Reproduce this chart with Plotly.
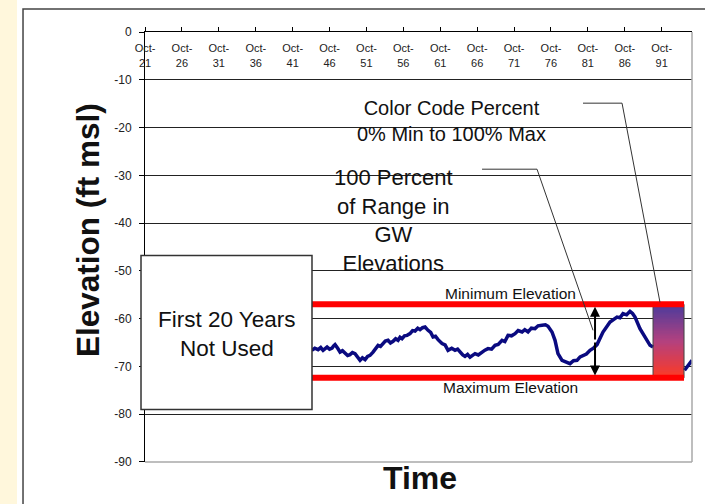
import plotly.graph_objects as go
import numpy as np

# ---------------- data ----------------
tick_years = [1921.75, 1926.75, 1931.75, 1936.75, 1941.75, 1946.75, 1951.75, 1956.75,
              1961.75, 1966.75, 1971.75, 1976.75, 1981.75, 1986.75, 1991.75]
tick_text = ["Oct-<br>21", "Oct-<br>26", "Oct-<br>31", "Oct-<br>36", "Oct-<br>41", "Oct-<br>46",
             "Oct-<br>51", "Oct-<br>56", "Oct-<br>61", "Oct-<br>66", "Oct-<br>71", "Oct-<br>76",
             "Oct-<br>81", "Oct-<br>86", "Oct-<br>91"]
y_ticks = [0, -10, -20, -30, -40, -50, -60, -70, -80, -90]

# groundwater elevation (visible part; the part behind the colour block is not drawn)
years = [1944.33, 1944.75, 1945.19, 1945.55, 1945.87, 1946.10, 1946.41, 1946.75, 1947.09, 1947.30,
         1947.49, 1947.85, 1948.17, 1948.50, 1948.85, 1949.20, 1949.52, 1949.85, 1950.20, 1950.55,
         1950.88, 1951.20, 1951.56, 1951.90, 1952.23, 1952.64, 1953.00, 1953.32, 1953.65, 1953.99,
         1954.30, 1954.67, 1955.00, 1955.35, 1955.70, 1956.03, 1956.30, 1956.57, 1956.90, 1957.25,
         1957.65, 1958.00, 1958.33, 1958.70, 1959.01, 1959.35, 1959.69, 1960.09, 1960.45, 1960.77,
         1961.10, 1961.45, 1961.99, 1962.40, 1962.80, 1963.30, 1963.75, 1964.10, 1964.43, 1964.80,
         1965.10, 1965.45, 1965.78, 1966.10, 1966.46, 1966.90, 1967.41, 1967.80, 1968.22, 1968.70,
         1969.17, 1969.60, 1970.12, 1970.50, 1970.93, 1971.40, 1971.88, 1972.30, 1972.83, 1973.20,
         1973.64, 1974.10, 1974.59, 1975.00, 1975.54, 1976.00, 1976.35, 1976.89, 1977.30, 1977.70,
         1978.25, 1978.92, 1979.33, 1979.80, 1980.28, 1980.70, 1981.09, 1981.55, 1982.04, 1982.50,
         1982.99, 1983.80, 1984.75, 1985.20, 1985.70, 1986.10, 1986.51, 1987.00, 1987.46, 1987.80,
         1988.14, 1988.81, 1989.49, 1989.85, 1990.17, 1990.58, None, 1994.85, 1995.32, 1995.86]
elevation = [-66.64, -66.20, -66.49, -66.05, -66.64, -66.30, -65.95, -66.40, -66.16, -65.70,
             -65.44, -66.20, -67.00, -66.70, -67.20, -67.70, -67.54, -67.10, -67.33, -68.20,
             -68.73, -68.20, -68.59, -67.90, -67.69, -67.00, -66.10, -65.59, -65.80, -65.23,
             -64.70, -64.54, -65.10, -64.75, -64.20, -64.54, -63.90, -64.19, -63.60, -63.50,
             -63.14, -62.50, -62.59, -62.00, -62.30, -61.90, -61.76, -62.45, -62.90, -63.85,
             -63.70, -64.40, -65.23, -65.50, -66.64, -66.20, -66.64, -66.40, -67.00, -67.60,
             -67.90, -67.50, -68.05, -67.70, -67.33, -67.60, -67.00, -66.60, -66.28, -66.40,
             -65.59, -65.40, -64.54, -64.80, -63.50, -63.60, -63.14, -62.50, -62.80, -62.30,
             -62.80, -62.00, -62.09, -61.50, -61.40, -61.30, -61.61, -62.80, -64.54, -67.33,
             -68.73, -69.09, -69.42, -68.80, -68.73, -68.00, -67.69, -67.40, -66.64, -66.20,
             -65.44, -62.80, -60.71, -60.30, -59.66, -59.80, -58.95, -59.20, -58.47, -58.90,
             -59.66, -62.09, -63.85, -64.90, -65.59, -65.95, None, -70.80, -69.78, -68.73]

min_elev = -57.0     # minimum elevation (top red line)
max_elev = -72.4     # maximum elevation (bottom red line)
band_start = 1944.30
band_end = 1994.78
color_rect_start = 1990.58
arrow_year = 1982.72

FONT = "Liberation Sans, Arial, sans-serif"

fig = go.Figure()

fig.add_trace(go.Scatter(x=years, y=elevation, mode="lines", connectgaps=False,
                         line=dict(color="#0a0a80", width=3.5),
                         hoverinfo="skip", showlegend=False))

# gradient "color code percent" block (0% at minimum elevation, 100% at maximum)
ramp_edges = np.linspace(0, 100, 61)
ramp_mid = (ramp_edges[:-1] + ramp_edges[1:]) / 2
ramp_y = [min_elev + (max_elev - min_elev) * p / 100 for p in ramp_edges]
fig.add_trace(go.Heatmap(x=[color_rect_start, band_end], y=ramp_y,
                         z=[[p] for p in ramp_mid],
                         colorscale=[[0, "#4a3b9c"], [0.5, "#b3417f"], [1, "#ff3a22"]],
                         zmin=0, zmax=100, showscale=False, hoverinfo="skip"))

shapes = []
shapes.append(dict(type="rect", xref="paper", yref="paper", x0=-0.2651, x1=-0.2340, y0=-0.2, y1=1.2,
                   fillcolor="#FFF7DC", line=dict(width=0), layer="below"))
shapes.append(dict(type="rect", xref="paper", yref="paper", x0=-0.2230, x1=1.1, y0=-0.2, y1=1.0535,
                   line=dict(color="#444444", width=1.5), layer="above"))
shapes.append(dict(type="line", xref="paper", yref="paper", x0=0, x1=1, y0=0, y1=0,
                   line=dict(color="#a8a8a8", width=1.5), layer="above"))
shapes.append(dict(type="line", xref="paper", yref="paper", x0=1, x1=1, y0=0, y1=1,
                   line=dict(color="#a8a8a8", width=1.5), layer="above"))
shapes.append(dict(type="rect", xref="x", yref="y", x0=color_rect_start, x1=band_end, y0=min_elev, y1=max_elev,
                   line=dict(color="#444444", width=1), layer="above"))
for yv in (min_elev, max_elev):
    shapes.append(dict(type="line", xref="x", yref="y", x0=band_start, x1=band_end, y0=yv, y1=yv,
                       line=dict(color="#ff0000", width=6), layer="above"))
shapes.append(dict(type="path", xref="x", yref="y",
                   path="M 1981.09,-14.88 L 1986.38,-14.88 L 1991.52,-56.58",
                   line=dict(color="#333333", width=1), layer="above"))
shapes.append(dict(type="path", xref="x", yref="y",
                   path="M 1967.41,-28.71 L 1974.86,-28.71 L 1982.45,-62.45",
                   line=dict(color="#333333", width=1), layer="above"))
shapes.append(dict(type="rect", xref="paper", yref="paper", x0=-0.0073, x1=0.3053, y0=0.1221, y1=0.4802,
                   fillcolor="white", line=dict(color="#333333", width=1.5), layer="above"))

annotations = []
mid = (min_elev + max_elev) / 2
for tip in (min_elev - 0.5, max_elev + 0.5):
    annotations.append(dict(x=arrow_year, y=tip, ax=arrow_year, ay=mid, xref="x", yref="y",
                            axref="x", ayref="y", text="", showarrow=True, arrowhead=2,
                            arrowsize=1, arrowwidth=2, arrowcolor="black"))

def txt(x, y, text, size, bold=False, angle=0):
    annotations.append(dict(x=x, y=y, xref="paper", yref="paper", text=("<b>%s</b>" % text) if bold else text,
                            showarrow=False, textangle=angle, xanchor="center", yanchor="middle",
                            font=dict(family=FONT, size=size, color="#111111")))

txt(0.149, 0.2988, "First 20 Years<br>Not Used", 22.5)
txt(0.5612, 0.7923, "Color Code Percent<br>0% Min to 100% Max", 20)
txt(0.4534, 0.5612, "100 Percent<br>of Range in<br>GW<br>Elevations", 22)
txt(0.6673, 0.3924, "Minimum Elevation", 15.5)
txt(0.6673, 0.1740, "Maximum Elevation", 15.5)
txt(-0.1042, 0.5395, "Elevation (ft msl)", 31.5, bold=True, angle=-90)
txt(0.5027, -0.037, "Time", 32, bold=True)

fig.update_layout(
    width=705, height=504,
    margin=dict(l=145, r=13, t=32, b=42),
    paper_bgcolor="white", plot_bgcolor="white",
    showlegend=False,
    shapes=shapes, annotations=annotations,
    xaxis=dict(range=[1921.74, 1995.86], side="top", tickvals=tick_years, ticktext=tick_text,
               showgrid=False, zeroline=False, showline=True, linecolor="black", linewidth=1,
               ticks="outside", ticklen=4, tickcolor="black", ticklabelposition="inside",
               ticklabeloverflow="allow", ticklabelstandoff=12,
               tickfont=dict(family=FONT, size=11, color="#222222")),
    yaxis=dict(range=[-90.02, 0.02], tickvals=y_ticks, ticktext=[str(v) for v in y_ticks],
               showgrid=True, gridcolor="#222222", gridwidth=1, zeroline=False,
               showline=True, linecolor="black", linewidth=1,
               ticks="outside", ticklen=5, tickcolor="black", ticklabelstandoff=5,
               tickfont=dict(family=FONT, size=12, color="#222222")),
)

fig.write_html("out.html", config={"displayModeBar": False},
               post_script="document.body.style.margin='0px';")
